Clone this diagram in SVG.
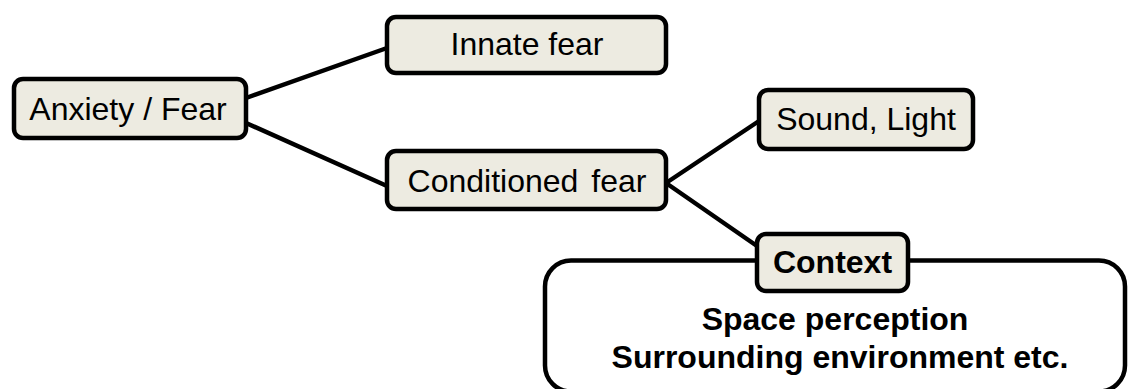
<svg xmlns="http://www.w3.org/2000/svg" width="1129" height="389" viewBox="0 0 1129 389">
<style>
.box{fill:#EDEBE1;stroke:#000;stroke-width:4.5}
.big{fill:#fff;stroke:#000;stroke-width:4.5}
.t{font-family:"Liberation Sans",Arial,sans-serif;font-size:32px;fill:#000;text-anchor:middle}
.b{font-weight:bold}
.c{stroke:#000;stroke-width:4.5;fill:none;stroke-linecap:round}
</style>
<rect width="1129" height="389" fill="#fff"/>
<g id="connectors">
<line class="c" x1="246" y1="98" x2="387" y2="48"/>
<line class="c" x1="246" y1="123" x2="387" y2="186"/>
<line class="c" x1="666" y1="183" x2="759" y2="121"/>
<line class="c" x1="666" y1="183" x2="757" y2="246"/>
</g>
<g id="anxiety">
<rect class="box" x="14" y="79" width="232" height="59" rx="9"/>
<text class="t" x="128" y="120">Anxiety / Fear</text>
</g>
<g id="innate">
<rect class="box" x="387" y="17" width="279" height="56" rx="9"/>
<text class="t" x="527" y="55">Innate fear</text>
</g>
<g id="conditioned">
<rect class="box" x="387" y="151" width="279" height="58" rx="9"/>
<text class="t" x="527" y="192" word-spacing="4">Conditioned fear</text>
</g>
<g id="sound">
<rect class="box" x="759" y="90" width="214" height="59" rx="9"/>
<text class="t" x="866" y="130">Sound, Light</text>
</g>
<g id="context-area">
<rect class="big" x="545" y="260.5" width="580" height="131" rx="26"/>
<text class="t b" x="835" y="330">Space perception</text>
<text class="t b" x="840" y="368">Surrounding environment etc.</text>
</g>
<g id="context">
<rect class="box" x="757" y="234" width="151" height="57" rx="9"/>
<text class="t b" x="832.5" y="273">Context</text>
</g>
</svg>
